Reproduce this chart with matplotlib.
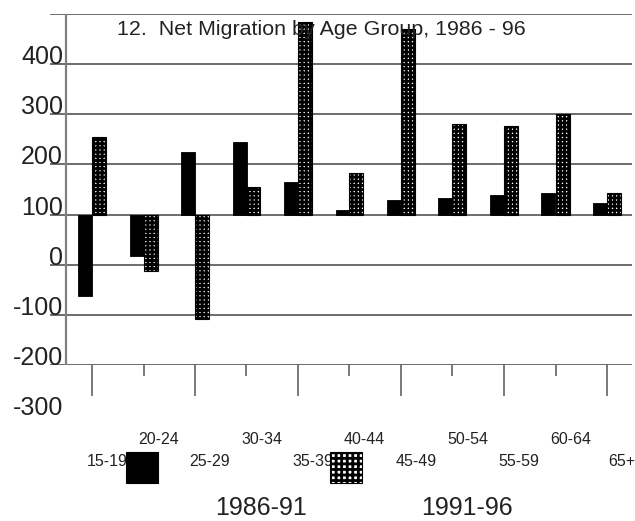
import matplotlib
matplotlib.use("Agg")
import matplotlib.pyplot as plt
from matplotlib.patches import Rectangle
from matplotlib.transforms import blended_transform_factory
import numpy as np

plt.rcParams['font.family'] = ['Liberation Sans', 'DejaVu Sans']
plt.rcParams['hatch.linewidth'] = 2.0

# ---- data ----
age_groups = ["15-19", "20-24", "25-29", "30-34", "35-39", "40-44",
              "45-49", "50-54", "55-59", "60-64", "65+"]
net_1986_91 = [-62, 18, 224, 244, 164, 110, 130, 134, 140, 144, 124]
net_1991_96 = [254, -12, -108, 154, 484, 182, 470, 280, 276, 300, 144]
series_names = ["1986-91", "1991-96"]
y_labels = [400, 300, 200, 100, 0, -100, -200, -300]
baseline = 100
title = "12.  Net Migration by Age Group, 1986 - 96"

W, H = 635, 521
fig = plt.figure(figsize=(W / 100, H / 100), dpi=100)
px_per_cat = 51.5
c0 = 92
ax_l, ax_r, ax_t, ax_b = 50, 632, 14, 365
ax = fig.add_axes([ax_l / W, (H - ax_b) / H, (ax_r - ax_l) / W, (ax_b - ax_t) / H])
ax.set_xlim((ax_l - c0) / px_per_cat, (ax_r - c0) / px_per_cat)
ax.set_ylim(-200, 500)
for s in ax.spines.values():
    s.set_visible(False)

x = np.arange(len(age_groups))
bw = 14 / px_per_cat

# gridlines
for gy in range(-200, 501, 100):
    ax.axhline(gy, color='#444444', lw=1.1, zorder=1)
# left axis line
ax.axvline((66 - c0) / px_per_cat, color='#808080', lw=1.6, zorder=1)

ax.bar(x - bw / 2, np.array(net_1986_91) - baseline, bottom=baseline, width=bw,
       color='black', edgecolor='black', lw=0.6, zorder=3)
ax.bar(x + bw / 2, np.array(net_1991_96) - baseline, bottom=baseline, width=bw,
       color='white', edgecolor='black', hatch='++++', lw=0.8, zorder=3)

# ticks
ax.set_xticks(x[::2])
ax.set_xticks(x[1::2], minor=True)
ax.set_xticklabels([])
ax.tick_params(axis='x', which='major', length=22.3, width=1.1, color='#555555', direction='out')
ax.tick_params(axis='x', which='minor', length=8, width=1.1, color='#555555', direction='out')
ax.set_yticks([])

# x category labels (staggered)
def pix2y(py):
    return -200 - (py - ax_b) * 700 / (ax_b - ax_t)

for i, lab in enumerate(age_groups):
    py = 440 if i % 2 == 1 else 462
    ax.text(i + 15 / px_per_cat, pix2y(py), lab, ha='center', va='center',
            fontsize=11.5, color='#222222', clip_on=False)

# y labels
trans = blended_transform_factory(fig.transFigure, ax.transData)
for v in y_labels:
    ax.text(63 / W, v, str(v), transform=trans, ha='right', va='baseline',
            fontsize=18, color='#222222', clip_on=False)

# title
fig.text(321 / W, 1 - 35 / H, title, ha='center', va='baseline', fontsize=15.4,
         color='#222222')

# legend
fig.add_artist(Rectangle((126 / W, 1 - 483 / H), 32 / W, 31 / H, transform=fig.transFigure,
                         facecolor='black', edgecolor='black', lw=0.8))
fig.add_artist(Rectangle((330 / W, 1 - 483 / H), 32 / W, 31 / H, transform=fig.transFigure,
                         facecolor='white', edgecolor='black', hatch='+++', lw=0.8))
fig.text(261 / W, 1 - 520 / H, series_names[0], ha='center', va='bottom', fontsize=18,
         color='#222222')
fig.text(467 / W, 1 - 520 / H, series_names[1], ha='center', va='bottom', fontsize=18,
         color='#222222')

fig.savefig("out.png", dpi=100)
